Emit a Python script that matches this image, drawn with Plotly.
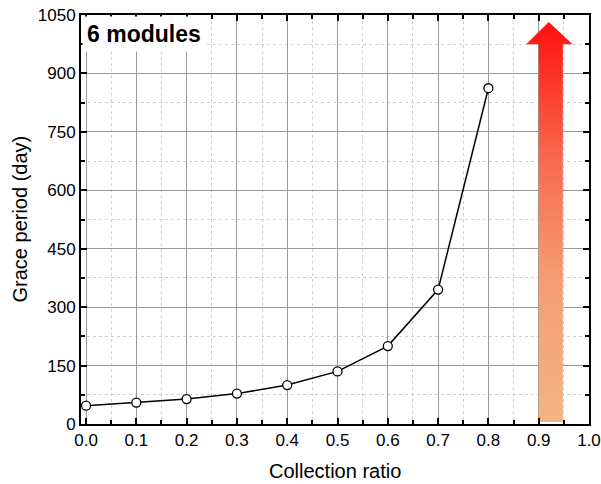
import plotly.graph_objects as go

ratio = [0.0, 0.1, 0.2, 0.3, 0.4, 0.5, 0.6, 0.7, 0.8]
grace_days = [47, 55, 64, 78, 100, 135, 200, 345, 862]

x_ticks = [0.0, 0.1, 0.2, 0.3, 0.4, 0.5, 0.6, 0.7, 0.8, 0.9, 1.0]
x_tick_labels = ["0.0", "0.1", "0.2", "0.3", "0.4", "0.5", "0.6", "0.7", "0.8", "0.9", "1.0"]
y_ticks = [0, 150, 300, 450, 600, 750, 900, 1050]

# decorative arrow outline (data coords)
arrow_x = [0.90, 0.948, 0.948, 0.9675, 0.920, 0.875, 0.90, 0.90]
arrow_y = [5, 5, 975, 975, 1032, 975, 975, 5]

FONT = "Arial, Liberation Sans, sans-serif"
W, H = 601, 484
L, R, T, B = 81, 12, 15, 60
PW, PH = W - L - R, H - T - B

fig = go.Figure()
fig.add_trace(go.Scatter(
    x=arrow_x, y=arrow_y, mode="lines", fill="toself",
    line=dict(width=0, color="rgba(0,0,0,0)"),
    fillgradient=dict(type="vertical",
                      colorscale=[[0, "#F4B486"], [0.35, "#F49E72"],
                                  [0.65, "#F86C4E"], [1, "#FF1010"]]),
    hoverinfo="skip", showlegend=False))
fig.add_trace(go.Scatter(
    x=ratio, y=grace_days, mode="lines+markers",
    line=dict(color="black", width=1.5),
    marker=dict(symbol="circle", size=9, color="white", line=dict(color="black", width=1.3)),
    showlegend=False))

axis_common = dict(
    showline=True, linecolor="black", linewidth=2, mirror="ticks",
    ticks="inside", ticklen=6, tickwidth=1.5, tickcolor="black",
    showgrid=True, gridcolor="#9a9a9a", gridwidth=1, zeroline=False,
    tickfont=dict(family=FONT, size=17, color="black"),
    automargin=False,
)

fig.update_xaxes(
    range=[-0.01, 1.0], tickvals=x_ticks, ticktext=x_tick_labels,
    minor=dict(dtick=0.05, tick0=0, ticks="inside", ticklen=4, tickcolor="black",
               showgrid=True, gridcolor="#cfcfcf", griddash="dot", gridwidth=1),
    **axis_common)
fig.update_yaxes(
    range=[0, 1050], tickvals=y_ticks,
    minor=dict(dtick=75, tick0=0, ticks="inside", ticklen=4, tickcolor="black",
               showgrid=True, gridcolor="#cfcfcf", griddash="dot", gridwidth=1),
    **axis_common)

fig.add_annotation(
    x=0, y=1, xref="paper", yref="paper", xanchor="left", yanchor="top",
    text="<b>6 modules</b>", showarrow=False,
    font=dict(family=FONT, size=23, color="black"),
    bgcolor="white", borderpad=4, xshift=1, yshift=-1)

# axis titles
fig.add_annotation(
    x=0.5, y=(0 - (471 - (H - B))) / PH, xref="paper", yref="paper",
    xanchor="center", yanchor="middle", showarrow=False,
    text="Collection ratio", font=dict(family=FONT, size=20, color="black"))
fig.add_annotation(
    x=(19 - L) / PW, y=0.5, xref="paper", yref="paper",
    xanchor="center", yanchor="middle", showarrow=False, textangle=-90,
    text="Grace period (day)", font=dict(family=FONT, size=20, color="black"))

fig.update_layout(
    width=W, height=H,
    margin=dict(l=L, r=R, t=T, b=B),
    paper_bgcolor="white", plot_bgcolor="white",
    font=dict(family=FONT, color="black"),
)

fig.write_html("out.html", config={"displayModeBar": False},
               post_script="document.body.style.margin='0';document.body.style.overflow='hidden';")
